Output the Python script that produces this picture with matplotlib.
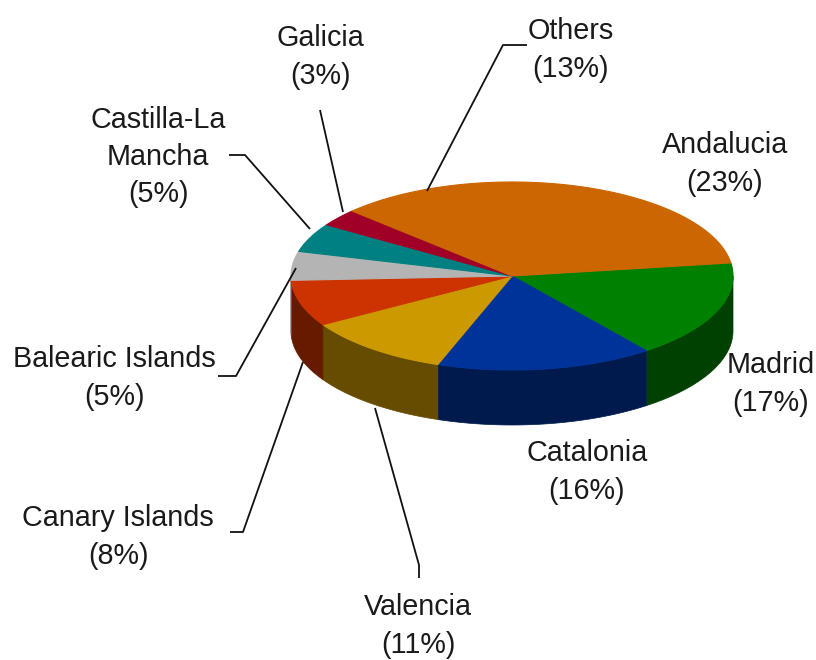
import numpy as np
import matplotlib
matplotlib.use('Agg')
import matplotlib.pyplot as plt
from matplotlib.patches import Polygon

plt.rcParams['font.family'] = ['Liberation Sans', 'DejaVu Sans']

# shares listed clockwise, starting from the Madrid slice
regions = ['Madrid', 'Catalonia', 'Valencia', 'Canary Islands', 'Balearic Islands',
           'Castilla-La Mancha', 'Galicia', 'Others', 'Andalucia']
shares = [17, 16, 11, 8, 5, 5, 3, 13, 23]
top_colors = ['#008000', '#003399', '#CC9900', '#CC3300', '#B4B4B4',
              '#008080', '#A00028', '#CC6600', '#CC6600']
side_colors = ['#004000', '#001A4D', '#664C00', '#661A00', '#5A5A5A',
               '#004040', '#500014', '#663300', '#663300']

label_text = ['Madrid\n(17%)', 'Catalonia\n(16%)', 'Valencia\n(11%)', 'Canary Islands\n(8%)',
              'Balearic Islands\n(5%)', 'Castilla-La\nMancha\n(5%)', 'Galicia\n(3%)',
              'Others\n(13%)', 'Andalucia\n(23%)']
label_pos = [(771, 384), (587, 472), (418, 626), (118, 537), (114, 378),
             (158, 157), (320, 57), (571, 50), (725, 164)]

leaders = [
    [(419, 578), (419, 565), (375, 408)],
    [(230, 532), (243, 532), (303, 362)],
    [(218, 376), (236, 376), (296, 268)],
    [(229, 155), (245, 155), (310, 229)],
    [(320, 110), (343, 212)],
    [(527, 45), (503, 45), (427, 191)],
]

cx, cy = 512, 276
rx, ry = 221, 94
depth = 55
start_angle = 8

fig = plt.figure(figsize=(8.16, 6.6), dpi=100)
ax = fig.add_axes([0, 0, 1, 1])
ax.set_xlim(0, 816)
ax.set_ylim(660, 0)
ax.axis('off')


def rim(a0, a1, dy=0):
    t = np.radians(np.linspace(a0, a1, 80))
    return np.column_stack([cx + rx * np.cos(t), cy + dy - ry * np.sin(t)])


edges = start_angle - np.cumsum([0] + shares) * 360 / sum(shares)

# side walls, only the front half of the rim shows
for i in range(len(shares)):
    a0, a1 = edges[i], edges[i + 1]
    lo, hi = max(a1, -180), min(a0, 0)
    if lo < hi:
        front = rim(hi, lo)
        wall = np.vstack([front, front[::-1] + [0, depth]])
        ax.add_patch(Polygon(wall, closed=True, fc=side_colors[i], ec=side_colors[i], lw=0.5))

# top face
for i in range(len(shares)):
    pts = np.vstack([[cx, cy], rim(edges[i], edges[i + 1])])
    ax.add_patch(Polygon(pts, closed=True, fc=top_colors[i], ec=top_colors[i], lw=0.8))

for line in leaders:
    xs, ys = zip(*line)
    ax.plot(xs, ys, color='#111111', lw=1.3, solid_capstyle='butt')

for text, (x, y) in zip(label_text, label_pos):
    ax.text(x, y, text, ha='center', va='center', fontsize=20.7, color='#1a1a1a', linespacing=1.42)

fig.savefig('out.png', dpi=100, facecolor='white')
